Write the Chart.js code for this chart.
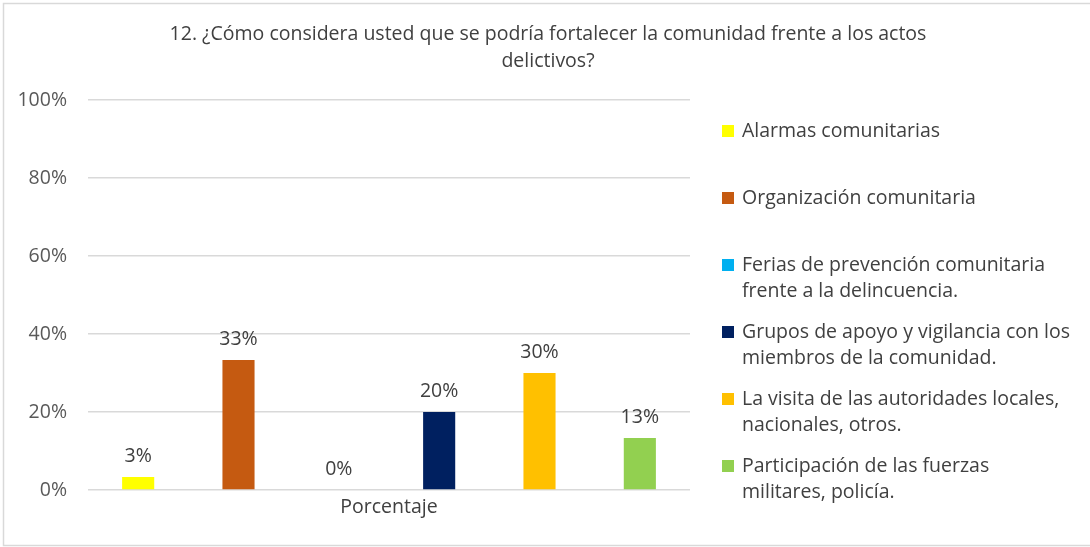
<!DOCTYPE html>
<html>
<head>
<meta charset="utf-8">
<script src="https://cdn.jsdelivr.net/npm/chart.js@4/dist/chart.umd.min.js"></script>
<style>
  html, body { margin: 0; padding: 0; background: #ffffff; }
  #wrap { position: relative; width: 1090px; height: 547px; }
</style>
</head>
<body>
<div id="wrap"><canvas id="c" width="1090" height="547"></canvas></div>
<script>
const titleLines = ["12. ¿Cómo considera usted que se podría fortalecer la comunidad frente a los actos", "delictivos?"];
const categories = ["Porcentaje"];
const seriesNames = [
  ["Alarmas comunitarias"],
  ["Organización comunitaria"],
  ["Ferias de prevención comunitaria", "frente a la delincuencia."],
  ["Grupos de apoyo y vigilancia con los", "miembros de la comunidad."],
  ["La visita de las autoridades locales,", "nacionales, otros."],
  ["Participación de las fuerzas", "militares, policía."]
];
const seriesValues = [3.33, 33.33, 0, 20, 30, 13.33];
const seriesColors = ["#FFFF00", "#C55A11", "#00B0F0", "#002060", "#FFC000", "#92D050"];
const yTicks = [0, 20, 40, 60, 80, 100];

const FONT = "'Open Sans', 'Liberation Sans', sans-serif";
const FS = 19.5;

const datasets = seriesNames.map((name, i) => ({
  label: name.join(" "),
  data: [seriesValues[i]],
  backgroundColor: seriesColors[i],
  borderWidth: 0,
  categoryPercentage: 1.0,
  barPercentage: 0.32
}));

const decorPlugin = {
  id: 'decor',
  beforeDraw(chart) {
    const ctx = chart.ctx;
    ctx.save();
    ctx.fillStyle = '#ffffff';
    ctx.fillRect(0, 0, chart.width, chart.height);
    ctx.strokeStyle = '#d9d9d9';
    ctx.lineWidth = 1.5;
    ctx.strokeRect(3.5, 3.5, chart.width + 10, chart.height - 5);
    ctx.restore();
  },
  afterDraw(chart) {
    const ctx = chart.ctx;
    ctx.save();
    // title
    ctx.fillStyle = '#404040';
    ctx.font = FS + "px " + FONT;
    ctx.textAlign = 'center';
    ctx.textBaseline = 'middle';
    titleLines.forEach((t, i) => ctx.fillText(t, 548, 34 + i * 27));
    // data labels
    chart.data.datasets.forEach((ds, di) => {
      const meta = chart.getDatasetMeta(di);
      meta.data.forEach((bar, j) => {
        const v = ds.data[j];
        ctx.fillText(Math.round(v) + "%", bar.x, bar.y - 21);
      });
    });
    // legend
    ctx.textAlign = 'left';
    const startY = 131, step = 67, lh = 26.5;
    chart.data.datasets.forEach((ds, di) => {
      const y0 = startY + di * step;
      ctx.fillStyle = ds.backgroundColor;
      ctx.fillRect(722, y0 - 6, 12, 12);
      ctx.fillStyle = '#404040';
      seriesNames[di].forEach((line, k) => ctx.fillText(line, 742, y0 + k * lh));
    });
    ctx.restore();
  }
};

new Chart(document.getElementById('c'), {
  type: 'bar',
  data: { labels: categories, datasets },
  options: {
    responsive: false,
    animation: false,
    devicePixelRatio: 1,
    layout: { padding: { top: 100, right: 400, bottom: 0, left: 0 } },
    plugins: { legend: { display: false }, title: { display: false }, tooltip: { enabled: false } },
    scales: {
      x: {
        grid: { display: false, drawTicks: false },
        border: { display: false },
        ticks: { color: '#404040', font: { family: FONT, size: FS }, padding: 6 },
        afterFit(scale) { scale.height = 57; }
      },
      y: {
        min: 0, max: 100,
        afterBuildTicks(scale) { scale.ticks = yTicks.map(v => ({ value: v })); },
        grid: { color: '#d9d9d9', lineWidth: 1.5, drawTicks: false },
        border: { display: false },
        ticks: { color: '#595959', font: { family: FONT, size: FS }, padding: 21, callback: v => v + "%" },
        afterFit(scale) { scale.width = 88; }
      }
    }
  },
  plugins: [decorPlugin]
});
</script>
</body>
</html>
